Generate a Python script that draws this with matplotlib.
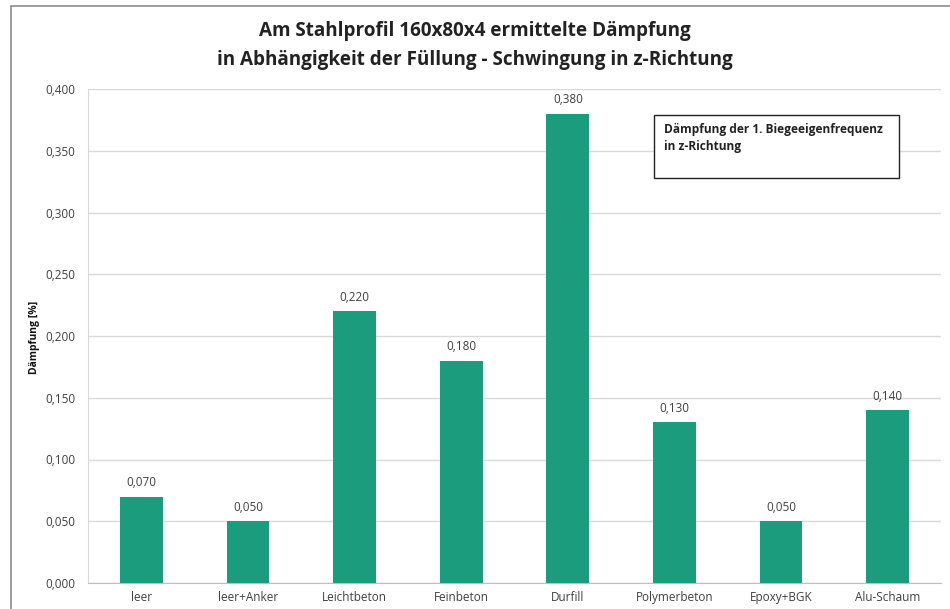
import matplotlib.pyplot as plt
from matplotlib.patches import Rectangle

plt.rcParams['font.family'] = ['Open Sans', 'DejaVu Sans']

fuellungen = ['leer', 'leer+Anker', 'Leichtbeton', 'Feinbeton', 'Durfill',
              'Polymerbeton', 'Epoxy+BGK', 'Alu-Schaum']
daempfung = [0.070, 0.050, 0.220, 0.180, 0.380, 0.130, 0.050, 0.140]
y_ticks = [0.0, 0.05, 0.10, 0.15, 0.20, 0.25, 0.30, 0.35, 0.40]

bar_color = '#1b9c7c'
text_color = '#404040'


def fmt(v):
    return f'{v:.3f}'.replace('.', ',')


fig = plt.figure(figsize=(9.5, 6.09), dpi=100)

# outer chart frame (open at right and bottom)
fig.add_artist(Rectangle((11 / 950, -0.1), 1.2, 1.1 - 6 / 609, transform=fig.transFigure,
                         fill=False, edgecolor='#8c8c8c', linewidth=1.2))

ax = fig.add_axes([88 / 950, 26 / 609, (941 - 88) / 950, (583 - 89) / 609])
x = range(len(fuellungen))
bars = ax.bar(x, daempfung, width=0.4, color=bar_color, zorder=3)

for xi, v in zip(x, daempfung):
    ax.text(xi, v + 0.006, fmt(v), ha='center', va='bottom', fontsize=8.5, color=text_color)

ax.set_xlim(-0.5, len(fuellungen) - 0.5)
ax.set_ylim(0, 0.4)
ax.set_yticks(y_ticks)
ax.set_yticklabels([fmt(t) for t in y_ticks])
ax.set_xticks(list(x))
ax.set_xticklabels(fuellungen)
ax.tick_params(axis='both', length=0, labelsize=8.5, labelcolor=text_color)
ax.tick_params(axis='y', pad=9)
ax.tick_params(axis='x', pad=6)
ax.grid(axis='y', color='#d9d9d9', linewidth=1, zorder=0)

for side in ['top', 'right']:
    ax.spines[side].set_visible(False)
ax.spines['left'].set_color('#d9d9d9')
ax.spines['bottom'].set_color('#bfbfbf')

# y axis title
fig.text(35 / 950, 1 - 337 / 609, 'Dämpfung [%]', rotation=90, ha='center', va='center',
         fontsize=7.5, fontweight='bold', color='#111111')

fig.text(0.5, 1 - 31 / 609, 'Am Stahlprofil 160x80x4 ermittelte Dämpfung',
         ha='center', va='center', fontsize=13.6, fontweight='bold', color='#222222')
fig.text(0.5, 1 - 60 / 609, 'in Abhängigkeit der Füllung - Schwingung in z-Richtung',
         ha='center', va='center', fontsize=13.6, fontweight='bold', color='#222222')

# annotation box
fig.add_artist(Rectangle((654 / 950, 1 - 178 / 609), (899 - 654) / 950, 63 / 609,
                         transform=fig.transFigure, facecolor='white',
                         edgecolor='#222222', linewidth=1, zorder=5))
fig.text(664 / 950, 1 - 138 / 609, 'Dämpfung der 1. Biegeeigenfrequenz\nin z-Richtung',
         ha='left', va='center', fontsize=8.6, fontweight='bold', color='#222222',
         linespacing=1.4, zorder=6)

fig.savefig('out.png', dpi=100)
